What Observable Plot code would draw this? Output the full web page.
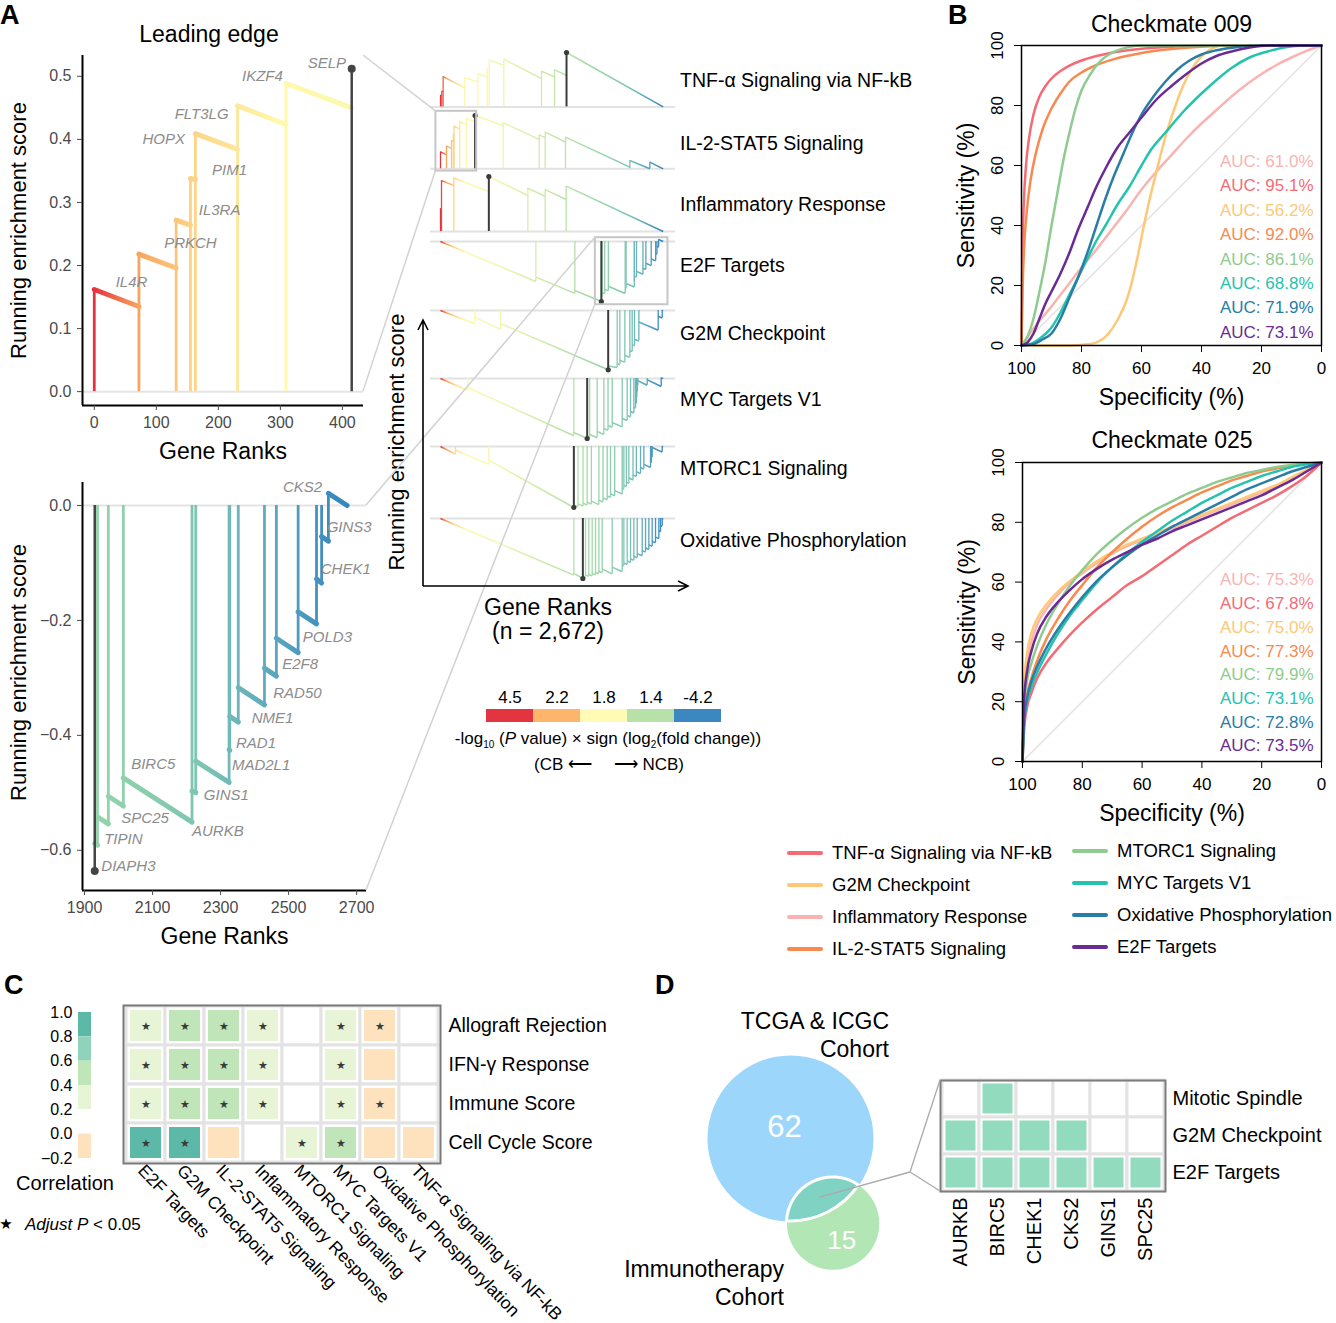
<!DOCTYPE html>
<html><head><meta charset="utf-8">
<script src="https://cdn.jsdelivr.net/npm/d3@7"></script>
<script src="https://cdn.jsdelivr.net/npm/@observablehq/plot@0.6"></script>
<style>
body{margin:0;background:#fff;}
#page{position:relative;width:1336px;height:1323px;overflow:hidden;background:#fff;font-family:"Liberation Sans",Arial,Helvetica,sans-serif;color:#000;}
</style></head><body><div id="page"></div>
<script>
// ================= DATA =================
const nGenes = 2672;
const pathways = ["TNF-α Signaling via NF-kB","IL-2-STAT5 Signaling","Inflammatory Response","E2F Targets","G2M Checkpoint","MYC Targets V1","MTORC1 Signaling","Oxidative Phosphorylation"];

// GSEA hits: [gene rank, running ES before hit, running ES after hit]
const leadingEdgeHits = [[0,0,0.162],[72,0.135,0.218],[132,0.196,0.272],[155,0.264,0.338],[163,0.336,0.409],[231,0.384,0.453],[309,0.424,0.489],[415,0.450,0.512]];
const leadingEdgeLabels = [["SELP",375,0.521],["IKZF4",271,0.500],["FLT3LG",173,0.440],["HOPX",112,0.400],["PIM1",218,0.351],["IL3RA",202,0.287],["PRKCH",155,0.235],["IL4R",60,0.174]];
const e2fTrailingHits = [[1930,-0.636,-0.588],[1938,-0.591,-0.542],[1970,-0.554,-0.506],[2014,-0.523,-0.474],[2216,-0.551,-0.497],[2227,-0.500,-0.445],[2325,-0.482,-0.425],[2327,-0.426,-0.367],[2352,-0.377,-0.317],[2429,-0.347,-0.283],[2464,-0.297,-0.231],[2528,-0.256,-0.185],[2582,-0.206,-0.128],[2597,-0.135,-0.054],[2617,-0.062,0.021],[2672,0,0]];
const e2fTrailingLabels = [["CKS2",2541,0.032],["GINS3",2678,-0.038],["CHEK1",2668,-0.110],["POLD3",2614,-0.229],["E2F8",2534,-0.277],["RAD50",2526,-0.326],["NME1",2453,-0.371],["RAD1",2404,-0.413],["MAD2L1",2419,-0.452],["GINS1",2317,-0.504],["AURKB",2292,-0.567],["SPC25",2078,-0.545],["BIRC5",2102,-0.450],["TIPIN",2014,-0.580],["DIAPH3",2029,-0.628]];

const tnfHits = [[0,0,0.11],[16,0.104,0.15],[32,0.145,0.29],[292,0.182,0.278],[448,0.239,0.316],[560,0.287,0.36],[584,0.357,0.447],[760,0.399,0.456],[1212,0.271,0.341],[1368,0.287,0.354],[1512,0.303,0.52],[2672,0,0]];
const il2LaterHits = [[752,0.416,0.442],[1184,0.282,0.326],[1256,0.30,0.352],[1500,0.256,0.304],[2272,0.016,0.08],[2512,0.0,0.064],[2672,0,0]];
const inflamHits = [[0,0,0.22],[12,0.218,0.49],[160,0.443,0.515],[580,0.385,0.53],[1048,0.347,0.417],[1256,0.34,0.404],[1508,0.308,0.437],[2672,0,0]];
const e2fEarlyHits = [[0,0,0],[1144,-0.424,-0.378],[1612,-0.55,-0.52]];
const g2mHits = [[0,0,0],[412,-0.139,-0.07],[720,-0.198,-0.136],[2012,-0.62,-0.58],[2120,-0.595,-0.555],[2152,-0.567,-0.52],[2212,-0.542,-0.47],[2272,-0.49,-0.42],[2300,-0.43,-0.36],[2328,-0.37,-0.30],[2380,-0.32,-0.12],[2612,-0.206,-0.06],[2660,-0.078,0.0],[2672,0,0]];
const mycHits = [[0,0,0],[328,-0.12,-0.09],[1600,-0.573,-0.54],[1760,-0.60,-0.575],[1790,-0.586,-0.56],[1880,-0.593,-0.53],[1960,-0.56,-0.50],[2010,-0.518,-0.47],[2060,-0.488,-0.44],[2180,-0.484,-0.40],[2240,-0.42,-0.37],[2280,-0.385,-0.33],[2320,-0.345,-0.29],[2340,-0.297,-0.24],[2350,-0.25,-0.19],[2356,-0.192,-0.13],[2362,-0.132,-0.07],[2368,-0.072,-0.023],[2480,-0.067,-0.013],[2648,-0.08,0.005],[2672,0,0]];
const mtorc1Hits = [[0,0,0],[180,-0.073,-0.035],[580,-0.17,-0.13],[1600,-0.58,-0.555],[1650,-0.573,-0.545],[1710,-0.567,-0.54],[1760,-0.558,-0.53],[1810,-0.548,-0.52],[1900,-0.553,-0.51],[1950,-0.528,-0.49],[2000,-0.508,-0.47],[2040,-0.485,-0.45],[2090,-0.468,-0.42],[2180,-0.453,-0.40],[2200,-0.407,-0.37],[2230,-0.381,-0.34],[2260,-0.351,-0.30],[2310,-0.318,-0.27],[2350,-0.285,-0.24],[2400,-0.258,-0.20],[2440,-0.215,-0.17],[2520,-0.20,-0.15],[2530,-0.154,-0.10],[2540,-0.104,-0.01],[2660,-0.054,0.0],[2672,0,0]];
const oxphosHits = [[0,0,0],[1600,-0.547,-0.53],[1708,-0.58,-0.555],[1740,-0.565,-0.545],[1780,-0.56,-0.54],[1820,-0.555,-0.53],[1860,-0.545,-0.52],[1900,-0.535,-0.51],[1940,-0.525,-0.49],[2060,-0.535,-0.47],[2180,-0.515,-0.45],[2200,-0.457,-0.43],[2240,-0.445,-0.41],[2280,-0.425,-0.39],[2320,-0.405,-0.365],[2360,-0.38,-0.34],[2420,-0.36,-0.31],[2460,-0.325,-0.285],[2500,-0.30,-0.255],[2540,-0.27,-0.22],[2580,-0.235,-0.18],[2620,-0.195,-0.12],[2640,-0.13,-0.07],[2660,-0.075,-0.005],[2672,0,0]];

const il2Hits = leadingEdgeHits.concat(il2LaterHits);
const e2fHits = e2fEarlyHits.concat(e2fTrailingHits);
const rowHits = [tnfHits, il2Hits, inflamHits, e2fHits, g2mHits, mycHits, mtorc1Hits, oxphosHits];

// DE colour key of panel A
const deBinLabels = ["4.5","2.2","1.8","1.4","-4.2"];

// ROC curves: [specificity %, sensitivity %]
const rocOrder = ["Inflammatory Response","TNF-α Signaling via NF-kB","G2M Checkpoint","IL-2-STAT5 Signaling","MTORC1 Signaling","MYC Targets V1","Oxidative Phosphorylation","E2F Targets"];
const auc009 = [61.0, 95.1, 56.2, 92.0, 86.1, 68.8, 71.9, 73.1];
const auc025 = [75.3, 67.8, 75.0, 77.3, 79.9, 73.1, 72.8, 73.5];
const cm009Inflam = [[100,0],[95,7],[90,13],[85,19.5],[80,26],[75,32],[70,38.5],[65,45],[60,52],[55,58],[50,63.5],[45,69],[40,74],[35,78.5],[30,83],[25,87],[20,90.5],[15,93.5],[10,96],[5,98.2],[0,100]];
const cm009Tnf = [[100,0],[99.7,30],[99.2,48],[98.5,60],[97.5,69],[96,77],[94,83],[92,86.5],[90,89],[87,91.5],[84,93.3],[80,95],[75,96.5],[70,97.6],[60,98.9],[50,99.6],[40,100],[0,100]];
const cm009G2m = [[100,0],[85,0],[78,0.4],[74,1.5],[71,4],[68,8.5],[65,15],[63,22],[61,31],[59,41],[57,50],[55,58],[53,66],[51,73],[49,79],[47,84.5],[45,89],[42,94],[39,97.3],[36,99.2],[33,100],[0,100]];
const cm009Il2 = [[100,0],[99.6,20],[99,35],[98,47],[97,55],[95,65],[93,72],[90,79],[87,84],[84,88],[80,91],[75,93.5],[70,95.2],[60,97.5],[50,98.8],[40,99.6],[30,100],[0,100]];
const cm009Mtorc1 = [[100,0],[98,3],[96,9],[94,18],[92,28],[90,40],[88,51],[86,62],[84,71],[82,79],[80,85],[77,90.5],[74,94.5],[70,97.5],[65,99.3],[60,100],[0,100]];
const cm009Myc = [[100,0],[96,1],[93,3],[90,6],[87,11],[84,17],[81,23],[78,29],[75,35],[72,40],[68,47],[64,53],[60,60],[57,65],[52,71],[46,78],[40,84],[35,88.5],[30,92.5],[24,96],[18,98],[12,99.4],[6,100],[0,100]];
const cm009Oxphos = [[100,0],[96,0.5],[93,2],[90,4],[87,9],[84,16],[81,23],[78,31],[75,40],[72,49],[69,57],[66,64],[63,71],[60,77],[56,83],[52,88],[48,92],[44,95],[40,97],[34,98.6],[28,99.5],[20,100],[0,100]];
const cm009E2f = [[100,0],[98,1],[96,4],[94,9],[92,14],[90,18],[87,24],[84,31],[81,39],[78,46],[75,53],[72,59],[68,66],[64,71],[60,76],[55,82],[50,86.5],[45,90.5],[40,94],[35,96.5],[30,98],[24,99.3],[18,100],[0,100]];
const cm025Inflam = [[100,0],[99.5,22],[98.5,33],[97,40],[95,46],[92,51],[88,56],[84,60],[80,63],[75,66.5],[70,69.5],[65,72],[60,74],[55,76],[50,78],[45,80],[40,82],[35,84],[30,86],[25,88],[20,90],[15,92],[10,94.5],[5,97],[0,100]];
const cm025Tnf = [[100,0],[99.5,10],[98.5,18],[97,23],[95,28],[92,33],[88,38],[84,42.5],[80,46.5],[75,51],[70,55],[65,59],[60,62],[55,65.5],[50,69],[45,72.5],[40,75.5],[35,78.5],[30,81.5],[25,84],[20,86.5],[15,89],[10,92],[5,95.5],[0,100]];
const cm025G2m = [[100,0],[99.5,25],[98.5,36],[97,43],[95,48],[92,52.5],[88,57],[84,60.5],[80,63.5],[75,67],[70,70],[65,72.5],[60,74.5],[55,76.5],[50,78.5],[45,80.5],[40,82.5],[35,84.5],[30,86.5],[25,88.5],[20,90.5],[15,92.5],[10,95],[5,97.5],[0,100]];
const cm025Il2 = [[100,0],[99.5,14],[98.5,22],[97,28],[95,34],[92,41],[88,48],[84,54],[80,59],[75,65],[70,70],[65,74.5],[60,78.5],[55,82],[50,85],[45,87.5],[40,90],[35,92],[30,94],[25,95.5],[20,97],[15,98],[10,99],[5,99.6],[0,100]];
const cm025Mtorc1 = [[100,0],[99.5,18],[98.5,27],[97,33],[95,39],[92,46],[88,53],[84,59],[80,64],[75,69.5],[70,74],[65,78],[60,81.5],[55,84.5],[50,87],[45,89.5],[40,91.5],[35,93.5],[30,95],[25,96.5],[20,97.5],[15,98.5],[10,99.2],[5,99.7],[0,100]];
const cm025Myc = [[100,0],[99.5,12],[98.5,20],[97,25],[95,30],[92,36],[88,43],[84,49],[80,54],[75,60],[70,65],[65,69.5],[60,73.5],[55,77],[50,80.5],[45,83.5],[40,86.5],[35,89],[30,91.5],[25,93.5],[20,95.5],[15,97],[10,98.5],[5,99.4],[0,100]];
const cm025Oxphos = [[100,0],[99.5,13],[98.5,21],[97,27],[95,32],[92,38],[88,44.5],[84,50],[80,55],[75,60.5],[70,65],[65,69],[60,72.5],[55,75.5],[50,78.5],[45,81],[40,83.5],[35,86],[30,88.5],[25,91],[20,93],[15,95],[10,97],[5,98.5],[0,100]];
const cm025E2f = [[100,0],[99.5,20],[98.5,30],[97,37],[95,43],[92,48.5],[88,53.5],[84,57.5],[80,61],[75,64.5],[70,67.5],[65,70],[60,72.5],[55,74.5],[50,77],[45,79],[40,81],[35,83],[30,85],[25,87],[20,89],[15,91.5],[10,94],[5,97],[0,100]];
const legendLeft = ["TNF-α Signaling via NF-kB","G2M Checkpoint","Inflammatory Response","IL-2-STAT5 Signaling"];
const legendRight = ["MTORC1 Signaling","MYC Targets V1","Oxidative Phosphorylation","E2F Targets"];

// Panel C correlations
const corrRows = ["Allograft Rejection","IFN-γ Response","Immune Score","Cell Cycle Score"];
const corrCols = ["E2F Targets","G2M Checkpoint","IL-2-STAT5 Signaling","Inflammatory Response","MTORC1 Signaling","MYC Targets V1","Oxidative Phosphorylation","TNF-α Signaling via NF-kB"];
const corrAllograft = [0.3, 0.5, 0.5, 0.3, 0.1, 0.3, -0.1, 0.1];
const corrIfng      = [0.3, 0.5, 0.5, 0.3, 0.1, 0.3, -0.1, 0.1];
const corrImmune    = [0.3, 0.5, 0.5, 0.3, 0.1, 0.3, -0.1, 0.1];
const corrCellCycle = [0.9, 0.9, -0.1, 0.1, 0.3, 0.5, -0.1, -0.1];
const sigAllograft = [1,1,1,1,0,1,1,0];
const sigIfng      = [1,1,1,1,0,1,0,0];
const sigImmune    = [1,1,1,1,0,1,1,0];
const sigCellCycle = [1,1,0,0,1,1,0,0];
const corrTicks = [1.0,0.8,0.6,0.4,0.2,0.0,-0.2];

// Panel D
const vennOnly = [62, 15];
const vennGenes = ["AURKB","BIRC5","CHEK1","CKS2","GINS1","SPC25"];
const geneSets = ["Mitotic Spindle","G2M Checkpoint","E2F Targets"];
const inMitotic = [0,1,0,0,0,0];
const inG2m     = [1,1,1,1,0,0];
const inE2f     = [1,1,1,1,1,1];

// ================= STYLE / LAYOUT =================
const FONT = '"Liberation Sans", Arial, Helvetica, sans-serif';
const rankColorStops = [[0,"#e4333f"],[70,"#f8a35c"],[160,"#fdd487"],[300,"#fff9ab"],[700,"#f1f7b0"],[1200,"#d0eaa8"],[1600,"#b5e0a7"],[1950,"#94d3ab"],[2250,"#7cc4b3"],[2450,"#5ca8bf"],[2672,"#3484bf"]];
const deBinColors = ["#e2353f","#fdb46b","#fffbb4","#b7e1a9","#3a88bf"];
const rocColors = ["#f9b4b1","#f46b76","#fdc877","#f88a4f","#8fcb8e","#26c2ad","#2a7da6","#6a2b93"];
const corrColors = ["#fde2bd","#ffffff","#e7f4d5","#c0e5b8","#8fd3ba","#5cb9a8"];
const rowBaseY = [106.7, 168.3, 231, 241, 310, 377.7, 445.7, 518.3];
const rowExtY  = [52.3, 115, 176, 301, 369.3, 437.7, 506.7, 578.3];
const tlDomainX = [-19, 434], tlDomainY = [-0.022, 0.533];
const blDomainX = [1894, 2729], blDomainY = [-0.67, 0.04];

const page = document.getElementById("page");
function put(node, left, top) {
  node.style.position = "absolute"; node.style.left = left + "px"; node.style.top = top + "px";
  page.appendChild(node); return node;
}
function htmlText(html, x, y, o = {}) {
  const d = document.createElement("div");
  d.innerHTML = html;
  const tx = o.anchor === "middle" ? "-50%" : o.anchor === "end" ? "-100%" : "0";
  Object.assign(d.style, {position: "absolute", left: x + "px", top: y + "px", fontSize: (o.size || 18) + "px",
    lineHeight: "1", whiteSpace: "nowrap", fontFamily: o.family || FONT, fontWeight: o.weight || "normal",
    fontStyle: o.italic ? "italic" : "normal", color: o.color || "#000",
    transform: `translate(${tx},-50%)` + (o.rotate ? ` rotate(${o.rotate}deg)` : "")});
  page.appendChild(d); return d;
}
const baseStyle = {fontFamily: FONT, overflow: "visible", background: "transparent"};

function rankGradient(id) {
  return (index, scales) => {
    const x = scales.x;
    const defs = d3.create("svg:defs");
    const x0 = x(rankColorStops[0][0]), x1 = x(rankColorStops[rankColorStops.length - 1][0]);
    const g = defs.append("linearGradient").attr("id", id).attr("gradientUnits", "userSpaceOnUse")
      .attr("x1", x0).attr("x2", x1).attr("y1", 0).attr("y2", 0);
    for (const [r, c] of rankColorStops) g.append("stop").attr("offset", (x(r) - x0) / (x1 - x0)).attr("stop-color", c);
    return defs.node();
  };
}
function gseaParts(hits) {
  const positive = d3.max(hits, d => d[2]) >= -d3.min(hits, d => d[1]);
  const lead = positive ? d3.maxIndex(hits, d => d[2]) : d3.minIndex(hits, d => d[1]);
  const segs = d3.pairs(hits).map(([a, b]) => ({x1: a[0], y1: a[2], x2: b[0], y2: b[1]}));
  const verts = hits.map((h, i) => ({x: h[0], y1: Math.min(0, h[1]), y2: Math.max(0, h[2]), i}))
    .filter(v => v.i !== lead && v.y1 !== v.y2);
  const L = hits[lead];
  return {segs, verts, leadPt: {x: L[0], y: positive ? L[2] : L[1]}, positive};
}

// ================= PANEL A: inset plots =================
function insetPlot(hits, labels, dx, dy, xTicks, yTicks, xFmt, id, dims, titleDy) {
  const g = gseaParts(hits);
  const marks = [
    rankGradient(id),
    Plot.ruleY([0], {stroke: "#e4e4e4", strokeWidth: 2}),
    Plot.ruleX(g.verts, {x: "x", y1: "y1", y2: "y2", stroke: `url(#${id})`, strokeWidth: 2.8}),
    Plot.link(g.segs, {x1: "x1", y1: "y1", x2: "x2", y2: "y2", stroke: `url(#${id})`, strokeWidth: 5, strokeLinecap: "round"}),
    Plot.ruleX([g.leadPt], {x: "x", y1: 0, y2: "y", stroke: "#444", strokeWidth: 2.5}),
    Plot.dot([g.leadPt], {x: "x", y: "y", r: 4, fill: "#444"}),
    Plot.text(labels, {x: d => d[1], y: d => d[2], text: d => d[0], fontStyle: "italic", fill: "#8c8c8c", fontSize: 15}),
    Plot.ruleX([dx[0]], {stroke: "#000", strokeWidth: 2}),
    Plot.ruleY([dy[0]], {stroke: "#000", strokeWidth: 2}),
    Plot.axisX({ticks: xTicks, tickFormat: xFmt, tickSize: 5, tickPadding: 6, fontSize: 16, color: "#4a4a4a", label: null}),
    Plot.axisY({ticks: yTicks, tickFormat: ".1f", tickSize: 5, tickPadding: 6, fontSize: 16, color: "#4a4a4a", label: null}),
    Plot.text(["Gene Ranks"], {text: d => d, frameAnchor: "bottom", lineAnchor: "middle", textAnchor: "middle", dy: 46, fontSize: 23}),
    Plot.text(["Running enrichment score"], {text: d => d, frameAnchor: "left", lineAnchor: "middle", textAnchor: "middle", dx: -64, dy: titleDy, rotate: -90, fontSize: 22})
  ];
  return Plot.plot({...dims, x: {domain: dx}, y: {domain: dy}, style: baseStyle, marks});
}
const tlLeft = 0, tlTop = 40;
const tlPlot = insetPlot(leadingEdgeHits, leadingEdgeLabels, tlDomainX, tlDomainY, [0,100,200,300,400], [0,0.1,0.2,0.3,0.4,0.5], "d", "gradTL",
  {width: 380, height: 430, marginLeft: 82, marginRight: 17, marginTop: 15, marginBottom: 65}, 0);
put(tlPlot, tlLeft, tlTop);
htmlText("Leading edge", 209, 34, {anchor: "middle", size: 23});
const blLeft = 0, blTop = 470;
const blPlot = insetPlot(e2fTrailingHits, e2fTrailingLabels, blDomainX, blDomainY, [1900,2100,2300,2500,2700], [0,-0.2,-0.4,-0.6], "d", "gradBL",
  {width: 380, height: 500, marginLeft: 82, marginRight: 14, marginTop: 12, marginBottom: 80}, -14);
put(blPlot, blLeft, blTop);

// ================= PANEL A: small running-ES rows =================
const rowPlots = [];
const rowLeft = 430;
rowHits.forEach((hits, i) => {
  const g = gseaParts(hits);
  const base = rowBaseY[i], ext = rowExtY[i];
  const top = Math.min(base, ext) - 8, height = Math.abs(base - ext) + 16;
  const id = "gradRow" + i;
  const marks = [
    rankGradient(id),
    Plot.ruleY([0], {stroke: "#e2e2e2", strokeWidth: 2}),
    Plot.ruleX(g.verts, {x: "x", y1: "y1", y2: "y2", stroke: `url(#${id})`, strokeWidth: 1.3}),
    Plot.link(g.segs, {x1: "x1", y1: "y1", x2: "x2", y2: "y2", stroke: `url(#${id})`, strokeWidth: 1.5}),
    Plot.ruleX([g.leadPt], {x: "x", y1: 0, y2: "y", stroke: "#3b3b3b", strokeWidth: 2}),
    Plot.dot([g.leadPt], {x: "x", y: "y", r: 2.6, fill: "#3b3b3b"})
  ];
  if (i === 1) marks.push(Plot.rect([0], {x1: tlDomainX[0], x2: tlDomainX[1], y1: tlDomainY[0], y2: tlDomainY[1], fill: "none", stroke: "#c6c6c6", strokeWidth: 2, insetLeft: -3, insetTop: -2}));
  if (i === 3) marks.push(Plot.rect([0], {x1: blDomainX[0], x2: blDomainX[1], y1: blDomainY[0], y2: blDomainY[1], fill: "none", stroke: "#c6c6c6", strokeWidth: 2, insetLeft: -3}));
  const p = Plot.plot({width: 245, height, margin: 0,
    x: {domain: [0, nGenes], range: [10, 232.7], axis: null},
    y: {domain: [0, g.leadPt.y], range: [base - top, ext - top], axis: null},
    style: baseStyle, marks});
  put(p, rowLeft, top);
  rowPlots.push({plot: p, top});
  htmlText(pathways[i], 680, [81,144,205,266,334,400,469,541][i], {size: 19.5});
});

// colour key of panel A
const dePlot = Plot.plot({width: 236, height: 44, marginLeft: 0, marginRight: 0, marginTop: 29, marginBottom: 2,
  x: {domain: deBinLabels, padding: 0}, color: {domain: deBinLabels, range: deBinColors},
  style: baseStyle,
  marks: [Plot.cell(deBinLabels, {x: d => d, fill: d => d}),
          Plot.axisX({anchor: "top", tickSize: 0, tickPadding: 7, fontSize: 17, label: null})]});
put(dePlot, 485, 680);
htmlText("-log<sub style='font-size:10px'>10</sub> (<i>P</i> value) × sign (log<sub style='font-size:10px'>2</sub>(fold change))", 608, 740, {anchor: "middle", size: 17});
htmlText("(CB&nbsp;&#10229;&emsp;&nbsp;&#10230;&nbsp;NCB)", 609, 764, {anchor: "middle", size: 17});
htmlText("Running enrichment score", 397, 442, {anchor: "middle", size: 22, rotate: -90});
htmlText("Gene Ranks", 548, 607, {anchor: "middle", size: 23});
htmlText("(n = 2,672)", 548, 631, {anchor: "middle", size: 23});

// ================= PANEL B =================
const cm009 = [cm009Inflam, cm009Tnf, cm009G2m, cm009Il2, cm009Mtorc1, cm009Myc, cm009Oxphos, cm009E2f];
const cm025 = [cm025Inflam, cm025Tnf, cm025G2m, cm025Il2, cm025Mtorc1, cm025Myc, cm025Oxphos, cm025E2f];
function rocPlot(title, curves, aucs, dims, titleDy, aucTop, aucStep) {
  const table = rocOrder.flatMap((name, i) => curves[i].map(([s, v]) => ({name, spec: s, sens: v})));
  const xd = [100, 0], yd = [0, 100];
  return Plot.plot({...dims, style: baseStyle,
    x: {domain: xd}, y: {domain: yd},
    color: {domain: rocOrder, range: rocColors},
    marks: [
      Plot.link([0], {x1: xd[0], y1: yd[0], x2: xd[1], y2: yd[1], stroke: "#e2e2e2", strokeWidth: 1.5}),
      Plot.line(table, {x: "spec", y: "sens", stroke: "name", strokeWidth: 2.5, curve: "monotone-x"}),
      Plot.frame({stroke: "#000", strokeWidth: 1.5}),
      Plot.axisX({ticks: [100,80,60,40,20,0], tickSize: 7, tickPadding: 9, fontSize: 17, label: null}),
      Plot.axisY({ticks: [0,20,40,60,80,100], tickSize: 7, tickFormat: () => "", label: null}),
      Plot.text([0,20,40,60,80,100], {frameAnchor: "left", y: d => d, text: d => String(d), rotate: -90, textAnchor: "middle", lineAnchor: "middle", dx: -24, fontSize: 17}),
      Plot.text(aucs, {frameAnchor: "right", dx: -8, y: (d, i) => aucTop - aucStep * i, text: d => `AUC: ${d.toFixed(1)}%`, fill: (d, i) => rocOrder[i], textAnchor: "end", fontSize: 17}),
      Plot.text([title], {text: d => d, frameAnchor: "top", lineAnchor: "middle", textAnchor: "middle", dy: titleDy, fontSize: 23}),
      Plot.text(["Specificity (%)"], {text: d => d, frameAnchor: "bottom", lineAnchor: "middle", textAnchor: "middle", dy: 52, fontSize: 23}),
      Plot.text(["Sensitivity (%)"], {text: d => d, frameAnchor: "left", lineAnchor: "middle", textAnchor: "middle", dx: -55, rotate: -90, fontSize: 23})
    ]});
}
put(rocPlot("Checkmate 009", cm009, auc009, {width: 386, height: 420, marginLeft: 71, marginRight: 15, marginTop: 45, marginBottom: 75}, -21, 61.3, 8.13), 950, 0);
put(rocPlot("Checkmate 025", cm025, auc025, {width: 386, height: 420, marginLeft: 72, marginRight: 15, marginTop: 42, marginBottom: 79}, -22, 60.7, 7.93), 950, 420);

// legend of panel B
function legendItem(name, x, y) {
  const c = rocColors[rocOrder.indexOf(name)];
  const sw = document.createElement("div");
  Object.assign(sw.style, {position: "absolute", left: x + "px", top: (y - 2) + "px", width: "36px", height: "4px", background: c, borderRadius: "2px"});
  page.appendChild(sw);
  htmlText(name, x + 45, y, {size: 18.5});
}
legendLeft.forEach((n, i) => legendItem(n, 787, 853 + 32 * i));
legendRight.forEach((n, i) => legendItem(n, 1072, 851 + 32 * i));

// ================= PANEL C =================
const corrValues = [corrAllograft, corrIfng, corrImmune, corrCellCycle];
const corrSig = [sigAllograft, sigIfng, sigImmune, sigCellCycle];
const corrTable = corrRows.flatMap((row, i) => corrCols.map((col, j) => ({row, col, v: corrValues[i][j], sig: corrSig[i][j]})));
const corrColor = {type: "threshold", domain: [0, 0.2, 0.4, 0.6, 0.8], range: corrColors};
const heatC = Plot.plot({width: 640, height: 333, marginLeft: 123, marginRight: 200, marginTop: 15, marginBottom: 160,
  x: {domain: corrCols, padding: 0}, y: {domain: corrRows, padding: 0}, color: corrColor, style: baseStyle,
  marks: [
    Plot.cell(corrTable, {x: "col", y: "row", fill: "white", stroke: "#e3e3e3", strokeWidth: 3}),
    Plot.cell(corrTable, {x: "col", y: "row", fill: "v", inset: 4}),
    Plot.text(corrTable.filter(d => d.sig), {x: "col", y: "row", text: () => "★", fill: "#3a3a3a", fontSize: 11}),
    Plot.frame({stroke: "#7a7a7a", strokeWidth: 2}),
    Plot.axisY({anchor: "right", tickSize: 0, tickPadding: 8, fontSize: 19.5, label: null}),
    Plot.axisX({anchor: "bottom", tickSize: 0, tickPadding: 4, tickRotate: 46, dx: -5, fontSize: 17.5, label: null})
  ]});
put(heatC, 0, 990);
const corrBins = d3.pairs(corrTicks);
const barC = Plot.plot({width: 100, height: 175, marginLeft: 78, marginRight: 9, marginTop: 12, marginBottom: 17,
  y: {domain: [-0.2, 1.0]}, color: corrColor, style: baseStyle,
  marks: [
    Plot.rect(corrBins, {y1: d => d[0], y2: d => d[1], fill: d => (d[0] + d[1]) / 2}),
    Plot.axisY({ticks: corrTicks, tickFormat: ".1f", tickSize: 0, tickPadding: 6, fontSize: 16, label: null})
  ]});
put(barC, 0, 1000);
htmlText("Correlation", 65, 1183, {anchor: "middle", size: 20});
htmlText("★", 6, 1224, {anchor: "middle", size: 15, family: "DejaVu Sans"});
htmlText("<i>Adjust P</i> &lt; 0.05", 25, 1224, {size: 17});

// ================= PANEL D =================
const vennShared = vennGenes.length;
const vennK = 10.07;              // px per sqrt(gene)
const vennAngle = 63.4 * Math.PI / 180;
const vC1 = [150, 148];
const vR1 = vennK * Math.sqrt(vennOnly[0] + vennShared), vR2 = vennK * Math.sqrt(vennOnly[1] + vennShared);
function lensArea(d, r1, r2) {
  const a1 = Math.acos((d*d + r1*r1 - r2*r2) / (2*d*r1)), a2 = Math.acos((d*d + r2*r2 - r1*r1) / (2*d*r2));
  return r1*r1*a1 + r2*r2*a2 - 0.5*Math.sqrt((-d+r1+r2)*(d+r1-r2)*(d-r1+r2)*(d+r1+r2));
}
const lensTarget = vennShared * Math.PI * vennK * vennK;
let lo = Math.abs(vR1 - vR2) + 1e-6, hi = vR1 + vR2 - 1e-6;
for (let k = 0; k < 60; k++) { const m = (lo + hi) / 2; if (lensArea(m, vR1, vR2) > lensTarget) lo = m; else hi = m; }
const vD = (lo + hi) / 2, vU = [Math.cos(vennAngle), Math.sin(vennAngle)];
const vC2 = [vC1[0] + vD * vU[0], vC1[1] + vD * vU[1]];
const vennCircles = [{x: vC1[0], y: vC1[1], r: vR1, n: vennOnly[0], lx: vC1[0] - vU[0]*0.16*vR1, ly: vC1[1] - vU[1]*0.16*vR1, fs: 31},
                     {x: vC2[0], y: vC2[1], r: vR2, n: vennOnly[1], lx: vC2[0] + vU[0]*0.42*vR2, ly: vC2[1] + vU[1]*0.42*vR2, fs: 26}];
function lensMark(index, scales) {
  const X = v => scales.x(v), Y = v => scales.y(v);
  const c1 = [X(vC1[0]), Y(vC1[1])], c2 = [X(vC2[0]), Y(vC2[1])];
  const a = (vR1*vR1 - vR2*vR2 + vD*vD) / (2*vD), h = Math.sqrt(vR1*vR1 - a*a);
  const P = [c1[0] + a*vU[0], c1[1] + a*vU[1]], perp = [-vU[1], vU[0]];
  const P1 = [P[0] + h*perp[0], P[1] + h*perp[1]], P2 = [P[0] - h*perp[0], P[1] - h*perp[1]];
  const sweep = (A, B, C) => ((B[0]-A[0])*(C[1]-A[1]) - (B[1]-A[1])*(C[0]-A[0])) > 0 ? 1 : 0;
  const dpath = `M${P1}A${vR1},${vR1} 0 0 ${sweep(P1,P2,c1)} ${P2}A${vR2},${vR2} 0 0 ${sweep(P2,P1,c2)} ${P1}Z`;
  return d3.create("svg:path").attr("d", dpath).attr("fill", "#80d2c3").attr("stroke", "#fff").attr("stroke-width", 3).node();
}
const vennLeft = 640, vennTop = 990;
const vennPlot = Plot.plot({width: 300, height: 333, margin: 0, style: baseStyle,
  x: {type: "identity", axis: null}, y: {type: "identity", axis: null}, r: {type: "identity"},
  marks: [
    Plot.dot([vennCircles[0]], {x: "x", y: "y", r: "r", fill: "#9dd6fb"}),
    Plot.dot([vennCircles[1]], {x: "x", y: "y", r: "r", fill: "#b2e6b4"}),
    lensMark,
    Plot.text(vennCircles, {x: "lx", y: "ly", text: d => String(d.n), fill: "white", fontSize: d => d.fs})
  ]});
put(vennPlot, vennLeft, vennTop);
htmlText("TCGA &amp; ICGC", 889, 1021, {anchor: "end", size: 23});
htmlText("Cohort", 889, 1049, {anchor: "end", size: 23});
htmlText("Immunotherapy", 784, 1269, {anchor: "end", size: 23});
htmlText("Cohort", 784, 1297, {anchor: "end", size: 23});

const geneMembership = [inMitotic, inG2m, inE2f];
const memTable = geneSets.flatMap((s, i) => vennGenes.map((g, j) => ({set: s, gene: g, on: geneMembership[i][j]})));
const heatDLeft = 930, heatDTop = 1070;
const heatD = Plot.plot({width: 406, height: 253, marginLeft: 10, marginRight: 171, marginTop: 10, marginBottom: 132,
  x: {domain: vennGenes, padding: 0}, y: {domain: geneSets, padding: 0}, style: baseStyle,
  marks: [
    Plot.cell(memTable, {x: "gene", y: "set", fill: "white", stroke: "#e3e3e3", strokeWidth: 3}),
    Plot.cell(memTable.filter(d => d.on), {x: "gene", y: "set", fill: "#93dbbf", inset: 3.5}),
    Plot.frame({stroke: "#7d7d7d", strokeWidth: 2}),
    Plot.axisY({anchor: "right", tickSize: 0, tickPadding: 7, fontSize: 20, label: null}),
    Plot.axisX({anchor: "bottom", tickSize: 0, tickPadding: 6, tickRotate: -90, fontSize: 20, label: null})
  ]});
put(heatD, heatDLeft, heatDTop);

// panel letters
htmlText("A", 0, 15, {size: 27, weight: "bold"});
htmlText("B", 948, 15, {size: 27, weight: "bold"});
htmlText("C", 4, 985, {size: 27, weight: "bold"});
htmlText("D", 655, 985, {size: 27, weight: "bold"});

// ================= overlay: connector lines and arrow axes =================
const ov = d3.select(page).append("svg").attr("width", 1336).attr("height", 1323)
  .style("position", "absolute").style("left", "0px").style("top", "0px").style("pointer-events", "none");
function pagePt(p, left, top, x, y) { return [left + p.scale("x").apply(x), top + p.scale("y").apply(y)]; }
function line(a, b, stroke = "#d2d2d2", w = 1.5) {
  ov.append("line").attr("x1", a[0]).attr("y1", a[1]).attr("x2", b[0]).attr("y2", b[1]).attr("stroke", stroke).attr("stroke-width", w);
}
const r1 = rowPlots[1], r3 = rowPlots[3];
line(pagePt(tlPlot, tlLeft, tlTop, tlDomainX[1], tlDomainY[1]), [pagePt(r1.plot, rowLeft, r1.top, tlDomainX[0], tlDomainY[1])[0] - 3, pagePt(r1.plot, rowLeft, r1.top, tlDomainX[0], tlDomainY[1])[1] - 2]);
line(pagePt(tlPlot, tlLeft, tlTop, tlDomainX[1], 0), [pagePt(r1.plot, rowLeft, r1.top, tlDomainX[0], tlDomainY[0])[0] - 3, pagePt(r1.plot, rowLeft, r1.top, tlDomainX[0], tlDomainY[0])[1]]);
line(pagePt(blPlot, blLeft, blTop, blDomainX[1], 0), [pagePt(r3.plot, rowLeft, r3.top, blDomainX[0], blDomainY[1])[0] - 3, pagePt(r3.plot, rowLeft, r3.top, blDomainX[0], blDomainY[1])[1]]);
line(pagePt(blPlot, blLeft, blTop, blDomainX[1], blDomainY[0]), [pagePt(r3.plot, rowLeft, r3.top, blDomainX[0], blDomainY[0])[0] - 3, pagePt(r3.plot, rowLeft, r3.top, blDomainX[0], blDomainY[0])[1]]);
// arrow axes of the small-multiples block
const axX = 423, axY = 586, axTop = 320, axRight = 688;
ov.append("path").attr("d", `M${axX},${axY}V${axTop}M${axX-5},${axTop+10}L${axX},${axTop}L${axX+5},${axTop+10}M${axX},${axY}H${axRight}M${axRight-10},${axY-5}L${axRight},${axY}L${axRight-10},${axY+5}`)
  .attr("fill", "none").attr("stroke", "#000").attr("stroke-width", 1.6);
// venn connector
const lensMid = [vennLeft + vC1[0] + vU[0] * (vR1 + vD - vR2) / 2, vennTop + vC1[1] + vU[1] * (vR1 + vD - vR2) / 2];
const hdTL = [heatDLeft + 10, heatDTop + 10], hdBL = [heatDLeft + 10, heatDTop + 121];
const kink = [hdTL[0] - 30, hdBL[1] - 19];
line(lensMid, kink, "#aaaaaa", 1.3); line(kink, hdTL, "#aaaaaa", 1.3); line(kink, hdBL, "#aaaaaa", 1.3);
</script></body></html>
